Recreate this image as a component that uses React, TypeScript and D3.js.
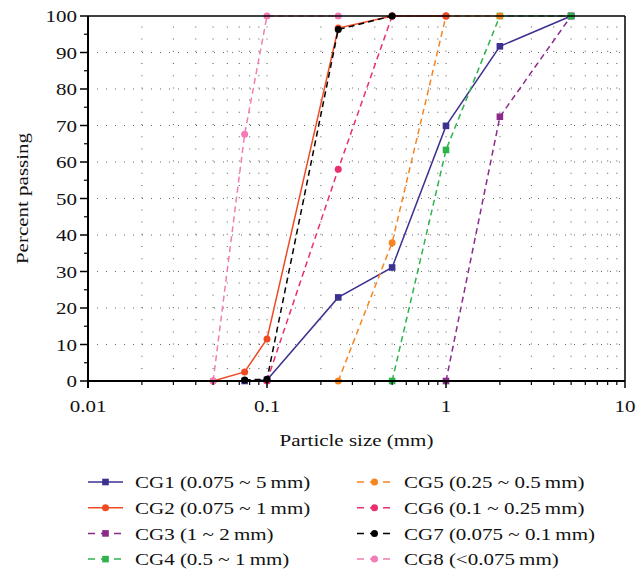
import React from "react";
import * as d3 from "d3";

const seriesNames = [
  "CG1 (0.075 ~ 5\u2009mm)",
  "CG2 (0.075 ~ 1\u2009mm)",
  "CG3 (1 ~ 2\u2009mm)",
  "CG4 (0.5 ~ 1\u2009mm)",
  "CG5 (0.25 ~ 0.5\u2009mm)",
  "CG6 (0.1 ~ 0.25\u2009mm)",
  "CG7 (0.075 ~ 0.1\u2009mm)",
  "CG8 (<0.075\u2009mm)",
];
const cg1Size = [0.075, 0.1, 0.25, 0.5, 1, 2, 5];
const cg1Pass = [0, 0.3, 22.9, 31.1, 69.9, 91.7, 100];
const cg2Size = [0.05, 0.075, 0.1, 0.25, 0.5, 1];
const cg2Pass = [0, 2.5, 11.5, 96.7, 100, 100];
const cg3Size = [1, 2, 5];
const cg3Pass = [0, 72.4, 100];
const cg4Size = [0.5, 1, 2, 5];
const cg4Pass = [0, 63.3, 100, 100];
const cg5Size = [0.25, 0.5, 1, 2];
const cg5Pass = [0, 37.9, 100, 100];
const cg6Size = [0.1, 0.25, 0.5, 1];
const cg6Pass = [0, 58, 100, 100];
const cg7Size = [0.075, 0.1, 0.25, 0.5];
const cg7Pass = [0.3, 0.5, 96.3, 100];
const cg8Size = [0.05, 0.075, 0.1, 0.25];
const cg8Pass = [0, 67.6, 100, 100];

const xTickLabels = ["0.01", "0.1", "1", "10"];
const yTickValues = [0, 10, 20, 30, 40, 50, 60, 70, 80, 90, 100];

const styles = [
  { color: "#3b3191", dash: null, marker: "square" },
  { color: "#f04a23", dash: null, marker: "circle" },
  { color: "#8c2a8c", dash: "6,4", marker: "square" },
  { color: "#2eb34b", dash: "6,4", marker: "square" },
  { color: "#f7841f", dash: "6,4", marker: "circle" },
  { color: "#ea2e6e", dash: "6,4", marker: "circle" },
  { color: "#000000", dash: "6,4", marker: "circle" },
  { color: "#f27cb3", dash: "6,4", marker: "circle" },
];

const sizes = [cg1Size, cg2Size, cg3Size, cg4Size, cg5Size, cg6Size, cg7Size, cg8Size];
const passes = [cg1Pass, cg2Pass, cg3Pass, cg4Pass, cg5Pass, cg6Pass, cg7Pass, cg8Pass];

const FONT = "'Liberation Serif', 'DejaVu Serif', serif";
const FS = 17.5;
const SX = 1.2;

function T(props: { x: number; y: number; anchor?: string; rotate?: number; dy?: string; children: React.ReactNode }) {
  const rot = props.rotate ? ` rotate(${props.rotate})` : "";
  return (
    <g transform={`translate(${props.x},${props.y})${rot} scale(${SX},1)`}>
      <text x={0} y={0} dy={props.dy} textAnchor={props.anchor || "start"} fontFamily={FONT} fontSize={FS} fill="#111">
        {props.children}
      </text>
    </g>
  );
}

export default function App() {
  const W = 637, H = 573;
  const L = 88, R = 625, Tp = 16, B = 381;
  const x = d3.scaleLog().domain([0.01, 10]).range([L, R]);
  const y = d3.scaleLinear().domain([0, 100]).range([B, Tp]);

  const minorX: number[] = [];
  for (let d = -2; d < 1; d++) {
    for (let k = 1; k <= 9; k++) minorX.push(k * Math.pow(10, d));
  }
  minorX.push(10);
  const majorX = [0.01, 0.1, 1, 10];
  const minorY = d3.range(5, 100, 10);

  const line = d3.line<[number, number]>().x((d) => x(d[0])).y((d) => y(d[1]));

  const marker = (kind: string, cx: number, cy: number, color: string, key: string) =>
    kind === "square" ? (
      <rect key={key} x={cx - 3.3} y={cy - 3.3} width={6.6} height={6.6} fill={color} />
    ) : (
      <circle key={key} cx={cx} cy={cy} r={3.5} fill={color} />
    );

  const order = [0, 2, 3, 4, 5, 1, 6, 7];

  return (
    <svg width={W} height={H} style={{ position: "absolute", left: 0, top: 0, background: "#fff" }}>
      {/* gridlines */}
      <g stroke="#666" strokeWidth={1.1} fill="none">
        {d3.range(10, 100, 10).map((v) => (
          <line key={"h" + v} x1={L} x2={R} y1={y(v)} y2={y(v)} strokeDasharray="1,8" />
        ))}
        {minorX
          .filter((v) => v > 0.011 && v < 9.9)
          .map((v, i) => (
            <line key={"v" + i} x1={x(v)} x2={x(v)} y1={B} y2={Tp} strokeDasharray="1,11.2" strokeDashoffset={-12} />
          ))}
      </g>
      {/* series */}
      {order.map((si) => {
        const s = styles[si];
        const pts: [number, number][] = sizes[si].map((v, i) => [v, passes[si][i]]);
        return (
          <g key={"s" + si}>
            <path d={line(pts) || ""} fill="none" stroke={s.color} strokeWidth={1.5} strokeDasharray={s.dash || undefined} />
            {pts.map((p, i) => marker(s.marker, x(p[0]), y(p[1]), s.color, "m" + si + "-" + i))}
          </g>
        );
      })}
      {/* frame */}
      <g stroke="#000" fill="none">
        <line x1={L} x2={R} y1={Tp} y2={Tp} strokeWidth={1.5} />
        <line x1={R} x2={R} y1={Tp} y2={B} strokeWidth={1.5} />
        <line x1={L} x2={R} y1={B} y2={B} strokeWidth={2} />
        <line x1={L} x2={L} y1={Tp} y2={B + 7} strokeWidth={2} />
        {yTickValues.map((v) => (
          <line key={"yt" + v} x1={L - 8} x2={L} y1={y(v)} y2={y(v)} strokeWidth={1.5} />
        ))}
        {minorY.map((v) => (
          <line key={"ym" + v} x1={L - 4} x2={L} y1={y(v)} y2={y(v)} strokeWidth={1.2} />
        ))}
        {majorX.map((v) => (
          <line key={"xt" + v} x1={x(v)} x2={x(v)} y1={B} y2={B + 7} strokeWidth={1.5} />
        ))}
        {minorX
          .filter((v) => !majorX.some((m) => Math.abs(m - v) < 1e-9))
          .map((v, i) => (
            <line key={"xm" + i} x1={x(v)} x2={x(v)} y1={B} y2={B + 4} strokeWidth={1.2} />
          ))}
      </g>
      {/* tick labels */}
      {yTickValues.map((v) => (
        <T key={"yl" + v} x={L - 11} y={y(v)} dy="0.35em" anchor="end">
          {v}
        </T>
      ))}
      {majorX.map((v, i) => (
        <T key={"xl" + v} x={x(v)} y={B + 31} anchor="middle">
          {xTickLabels[i]}
        </T>
      ))}
      <T x={(L + R) / 2} y={446} anchor="middle">
        Particle size (mm)
      </T>
      <T x={28} y={(Tp + B) / 2} rotate={-90} anchor="middle">
        Percent passing
      </T>
      {/* legend */}
      {seriesNames.map((name, i) => {
        const s = styles[i];
        const col = i < 4 ? 0 : 1;
        const row = i % 4;
        const lx = col === 0 ? 88 : 357;
        const ly = 482 + row * 25.7;
        return (
          <g key={"lg" + i}>
            <line
              x1={lx}
              x2={lx + 35}
              y1={ly}
              y2={ly}
              stroke={s.color}
              strokeWidth={1.5}
              strokeDasharray={s.dash ? "7,6" : undefined}
            />
            {marker(s.marker, lx + 17.5, ly, s.color, "lm" + i)}
            <T x={lx + 47} y={ly} dy="0.35em">
              {name}
            </T>
          </g>
        );
      })}
    </svg>
  );
}
